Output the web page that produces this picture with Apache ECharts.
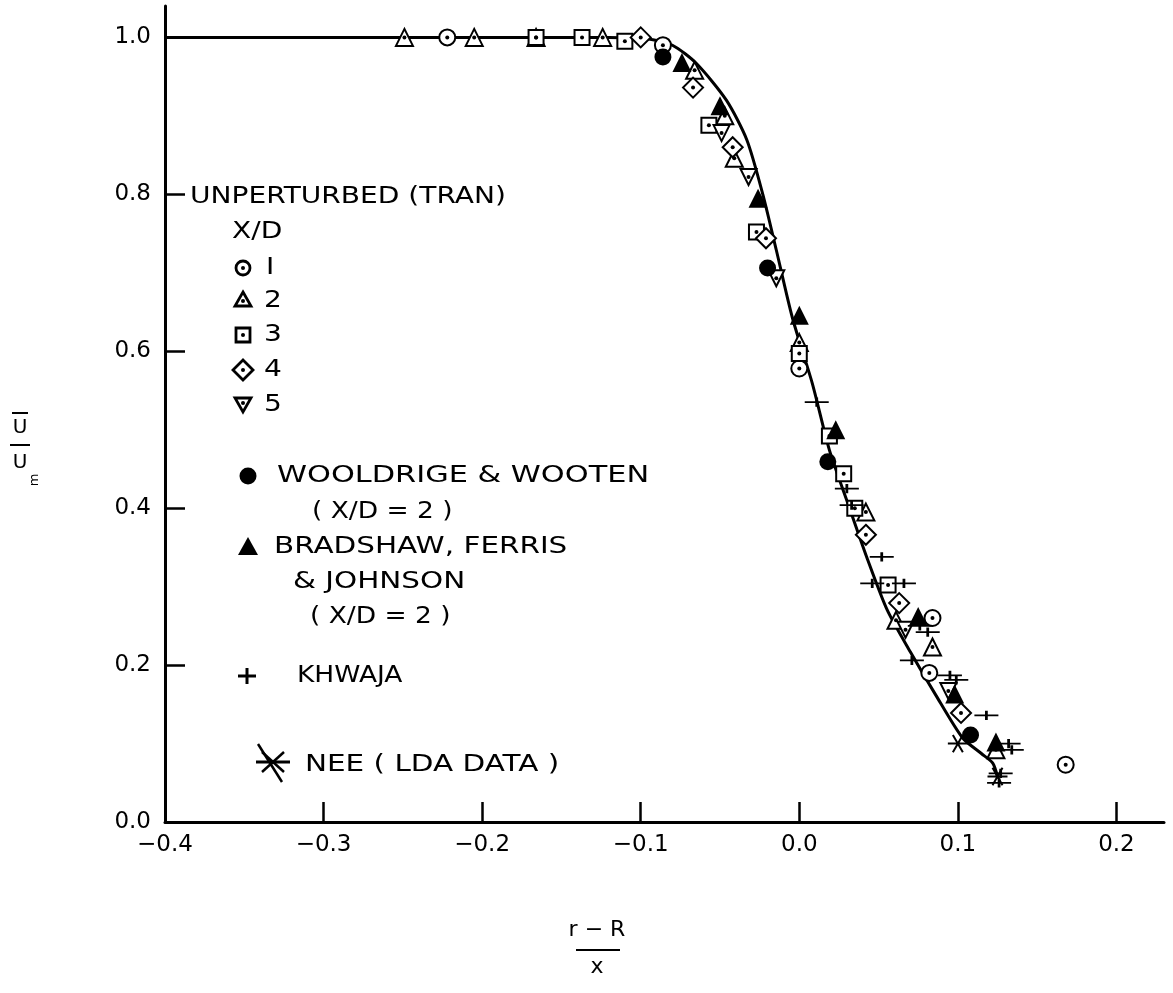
<!DOCTYPE html>
<html>
<head>
<meta charset="UTF-8">
<script src="https://cdn.jsdelivr.net/npm/echarts@6/dist/echarts.min.js"></script>
<style>
html, body { margin: 0; padding: 0; background: #fff; }
#main { width: 1173px; height: 993px; }
</style>
</head>
<body>
<div id="main"></div>
<script>
// ---- data ----
var xTickValues = [-0.4, -0.3, -0.2, -0.1, 0.0, 0.1, 0.2];
var yTickValues = [0.0, 0.2, 0.4, 0.6, 0.8, 1.0];

var profileCurve = [[-0.4,1.0],[-0.12,1.0],[-0.095,0.998],[-0.080,0.99],[-0.065,0.967],[-0.046,0.92],
  [-0.033,0.869],[-0.023,0.80],[-0.0145,0.729],[-0.0044,0.643],[0.0082,0.559],[0.019,0.474],
  [0.031,0.404],[0.043,0.335],[0.0555,0.27],[0.070,0.217],[0.086,0.162],[0.103,0.107],
  [0.115,0.087],[0.122,0.075],[0.125,0.058]];

var tran1 = [[-0.222,1.0],[-0.086,0.99],[0.0,0.578],[0.084,0.26],[0.082,0.19],[0.168,0.073]];
var tran2 = [[-0.249,1.0],[-0.205,1.0],[-0.166,1.0],[-0.124,1.0],[-0.066,0.958],[-0.047,0.90],
  [-0.041,0.846],[0.0,0.611],[0.042,0.395],[0.061,0.257],[0.084,0.223],[0.124,0.092]];
var tran3 = [[-0.166,1.0],[-0.137,1.0],[-0.110,0.995],[-0.057,0.888],[-0.027,0.752],[0.0,0.597],
  [0.019,0.492],[0.028,0.444],[0.035,0.40],[0.056,0.302]];
var tran4 = [[-0.100,1.0],[-0.067,0.936],[-0.042,0.86],[-0.021,0.744],[0.042,0.366],[0.063,0.279],[0.102,0.139]];
var tran5 = [[-0.049,0.878],[-0.032,0.822],[-0.0145,0.693],[0.067,0.245],[0.094,0.167]];
var wooldrige = [[-0.086,0.975],[-0.020,0.706],[0.018,0.459],[0.108,0.111]];
var bradshaw = [[-0.074,0.968],[-0.050,0.913],[-0.026,0.795],[0.0,0.646],[0.023,0.50],[0.075,0.262],
  [0.098,0.163],[0.124,0.102]];
var khwaja = [[0.011,0.535],[0.030,0.425],[0.033,0.404],[0.052,0.338],[0.046,0.304],[0.066,0.304],
  [0.081,0.242],[0.076,0.25],[0.071,0.206],[0.099,0.181],[0.095,0.187],[0.118,0.136],[0.134,0.092],
  [0.132,0.10],[0.127,0.062],[0.126,0.05]];
var nee = [[0.100,0.10],[0.125,0.058]];

// ---- symbols ----
var plusPath = 'path://M0,6.5 L26,6.5 L26,9.5 L0,9.5 Z M11.5,0 L14.5,0 L14.5,16 L11.5,16 Z';
function barPoly(angle, len, w) {
  var c = Math.cos(angle), s = Math.sin(angle);
  var pts = [[-len, -w], [len, -w], [len, w], [-len, w]].map(function (p) {
    return [(20 + p[0] * c - p[1] * s).toFixed(2), (20 + p[0] * s + p[1] * c).toFixed(2)];
  });
  return 'M' + pts.map(function (p) { return p.join(','); }).join(' L') + ' Z';
}
var starPath = 'path://' + [0, Math.PI / 3, -Math.PI / 3].map(function (a) { return barPoly(a, 20, 2); }).join(' ');

var font = 'DejaVu Sans';
var black = '#000';

function openSeries(data, symbol, size, rotate) {
  return [{
    type: 'scatter', data: data, symbol: symbol, symbolSize: size, symbolRotate: rotate || 0,
    itemStyle: { color: black, borderColor: black, borderWidth: 2.8, opacity: 1 }, z: 3
  }, {
    type: 'scatter', data: data, symbol: 'circle', symbolSize: 4,
    itemStyle: { color: black, opacity: 1 }, z: 4
  }];
}

var series = [{
  type: 'line', data: profileCurve, smooth: 0.25, showSymbol: false,
  lineStyle: { color: black, width: 3 }, z: 2
}];
series = series.concat(
  openSeries(tran1, 'emptyCircle', 16),
  openSeries(tran2, 'emptyTriangle', 17),
  openSeries(tran3, 'emptyRect', 15),
  openSeries(tran4, 'emptyDiamond', 20),
  openSeries(tran5, 'emptyTriangle', 16, 180)
);
series.push(
  { type: 'scatter', data: wooldrige, symbol: 'circle', symbolSize: 17, itemStyle: { color: black, opacity: 1 }, z: 3 },
  { type: 'scatter', data: bradshaw, symbol: 'triangle', symbolSize: 19, itemStyle: { color: black, opacity: 1 }, z: 3 },
  { type: 'scatter', data: khwaja, symbol: plusPath, symbolSize: [24, 15], symbolKeepAspect: true, itemStyle: { color: black, opacity: 1 }, z: 3 },
  { type: 'scatter', data: nee, symbol: starPath, symbolSize: 20, symbolKeepAspect: true, itemStyle: { color: black, opacity: 1 }, z: 3 }
);

// ---- legend drawn in the plot ----
function txt(x, y, s, sx) {
  return { type: 'text', x: x, y: y, scaleX: sx || 1.22,
    style: { text: s, font: '23px "' + font + '"', fill: black, verticalAlign: 'middle', align: 'left' } };
}
function ln(x1, y1, x2, y2, w) {
  return { type: 'line', shape: { x1: x1, y1: y1, x2: x2, y2: y2 }, style: { stroke: black, lineWidth: w || 2 } };
}
function dot(x, y) { return { type: 'circle', shape: { cx: x, cy: y, r: 2 }, style: { fill: black } }; }
function poly(pts, filled) {
  return { type: 'polygon', shape: { points: pts }, style: filled ? { fill: black } : { fill: '#fff', stroke: black, lineWidth: 2.8 } };
}
var lx = 243;
var legendEls = [
  txt(190, 197, 'UNPERTURBED (TRAN)'),
  txt(232, 232, 'X/D'),
  { type: 'circle', shape: { cx: lx, cy: 268, r: 7 }, style: { fill: '#fff', stroke: black, lineWidth: 2.8 } }, dot(lx, 268), txt(266, 268, 'I'),
  poly([[lx, 292], [lx + 8, 306], [lx - 8, 306]]), dot(lx, 301), txt(264, 301, '2'),
  poly([[lx - 7, 328], [lx + 7, 328], [lx + 7, 342], [lx - 7, 342]]), dot(lx, 335), txt(264, 335, '3'),
  poly([[lx, 360], [lx + 10, 370], [lx, 380], [lx - 10, 370]]), dot(lx, 370), txt(264, 370, '4'),
  poly([[lx - 8, 398], [lx + 8, 398], [lx, 412]]), dot(lx, 403), txt(264, 405, '5'),
  { type: 'circle', shape: { cx: 248, cy: 476, r: 8.5 }, style: { fill: black } },
  txt(277, 476, 'WOOLDRIGE & WOOTEN', 1.32),
  txt(312, 512, '( X/D = 2 )', 1.15),
  poly([[248, 537], [258, 555], [238, 555]], true),
  txt(274, 547, 'BRADSHAW, FERRIS', 1.28),
  txt(293, 582, '& JOHNSON', 1.28),
  txt(310, 617, '( X/D = 2 )', 1.15),
  ln(238, 676, 256, 676, 3), ln(247, 668, 247, 684, 3),
  txt(297, 676, 'KHWAJA', 1.15),
  ln(258, 744, 282, 782, 2.5), ln(256, 762, 290, 762, 3), ln(262, 752, 284, 772, 2.5), ln(284, 752, 262, 772, 2.5),
  txt(305, 765, 'NEE ( LDA DATA )', 1.28),
  // x-axis title as a fraction
  { type: 'text', x: 597, y: 930, style: { text: 'r − R', font: '22px "' + font + '"', fill: black, align: 'center', verticalAlign: 'middle' } },
  ln(576, 950, 620, 950, 2),
  { type: 'text', x: 597, y: 967, style: { text: 'x', font: '22px "' + font + '"', fill: black, align: 'center', verticalAlign: 'middle' } },
  // y-axis title U/Um
  ln(12, 413, 28, 413, 2),
  { type: 'text', x: 20, y: 428, style: { text: 'U', font: '20px "' + font + '"', fill: black, align: 'center', verticalAlign: 'middle' } },
  ln(10, 445, 30, 445, 2),
  { type: 'text', x: 20, y: 463, style: { text: 'U', font: '20px "' + font + '"', fill: black, align: 'center', verticalAlign: 'middle' } },
  { type: 'text', x: 35, y: 480, rotation: Math.PI / 2, style: { text: 'm', font: '13px "' + font + '"', fill: black, align: 'center', verticalAlign: 'middle' } }
];

function fmt(v) { return (Math.abs(v) < 1e-9 ? '0.0' : v.toFixed(1)).replace('-', '\u2212'); }

var chart = echarts.init(document.getElementById('main'));
chart.setOption({
  backgroundColor: '#fff',
  animation: false,
  grid: { left: 165, top: 6, width: 999, height: 816 },
  xAxis: {
    type: 'value', min: -0.4, max: 0.23,
    splitLine: { show: false },
    axisLine: { onZero: false, lineStyle: { color: black, width: 3 } },
    axisTick: { inside: true, length: 20, customValues: xTickValues, lineStyle: { color: black, width: 2.5 } },
    axisLabel: { customValues: xTickValues, formatter: fmt, color: black, fontSize: 23, fontFamily: font, margin: 12 }
  },
  yAxis: {
    type: 'value', min: 0, max: 1.04,
    splitLine: { show: false },
    axisLine: { onZero: false, lineStyle: { color: black, width: 3 } },
    axisTick: { inside: true, length: 20, customValues: yTickValues, lineStyle: { color: black, width: 2.5 } },
    axisLabel: { customValues: yTickValues, formatter: fmt, color: black, fontSize: 23, fontFamily: font, margin: 14 }
  },
  graphic: legendEls,
  series: series
});
</script>
</body>
</html>
